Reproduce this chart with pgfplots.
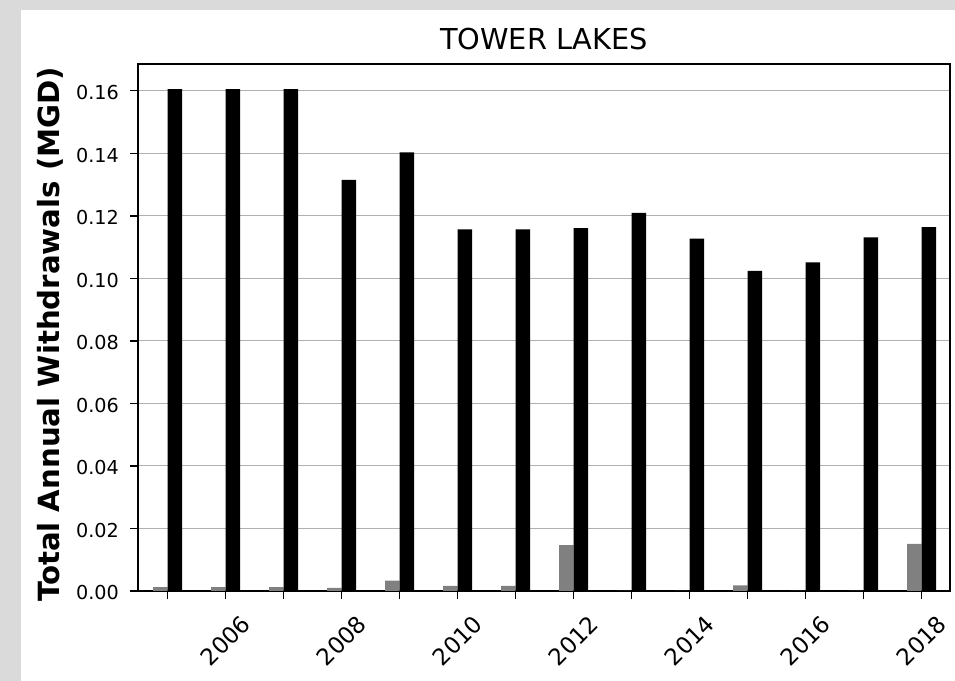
\documentclass[border=0pt]{standalone}
\usepackage{pgfplots}
\pgfplotsset{compat=1.18}
\usepackage{fontspec}
\setmainfont{DejaVu Sans}
\definecolor{bggray}{RGB}{218,218,218}
\definecolor{gridgray}{RGB}{176,176,176}
\definecolor{bargray}{RGB}{128,128,128}
\begin{document}
\begin{tikzpicture}[x=1pt,y=1pt]
\fill[bggray] (0,0) rectangle (477.5,340.5);
\fill[white] (10.5,0) rectangle (477.5,335.5);
\begin{axis}[
  at={(69pt,45pt)}, anchor=south west,
  scale only axis, width=406pt, height=263.5pt,
  xmin=2004.49, xmax=2018.49, ymin=0, ymax=0.1686,
  xtick={2005,2006,2007,2008,2009,2010,2011,2012,2013,2014,2015,2016,2017,2018},
  xticklabels={,2006,,2008,,2010,,2012,,2014,,2016,,2018},
  ytick={0,0.02,0.04,0.06,0.08,0.10,0.12,0.14,0.16},
  yticklabel={\pgfmathprintnumber[fixed, fixed zerofill, precision=2, assume math mode=true]{\tick}},
  xticklabel style={font=\fontsize{11.5}{13}\selectfont, anchor=center, yshift=-20.75pt, rotate=45},
  yticklabel style={font=\fontsize{9.6}{11}\selectfont, anchor=east, inner sep=0pt, yshift=-1pt},
  yticklabel shift=5.35pt,
  axis line style={black, line width=0.6pt},
  tick style={black, line width=0.6pt},
  major tick length=4pt, tick align=outside,
  xtick pos=bottom, ytick pos=left,
  ymajorgrids, grid style={gridgray, line width=0.5pt},
]
\addplot[ybar, bar width=0.25, bar shift=-0.125, fill=bargray, draw=none] coordinates {
(2005,0.0012) (2006,0.0012) (2007,0.0012) (2008,0.0010) (2009,0.0033) (2010,0.0016) (2011,0.0016)
(2012,0.0147) (2013,0) (2014,0) (2015,0.0018) (2016,0) (2017,0) (2018,0.0151)};
\addplot[ybar, bar width=0.25, bar shift=0.125, fill=black, draw=none] coordinates {
(2005,0.1606) (2006,0.1606) (2007,0.1606) (2008,0.1315) (2009,0.1403) (2010,0.1157) (2011,0.1157)
(2012,0.1161) (2013,0.1210) (2014,0.1127) (2015,0.1024) (2016,0.1051) (2017,0.1131) (2018,0.1164)};
\end{axis}
\node[font=\fontsize{14.4}{17}\selectfont, anchor=base] at (272,315.85) {TOWER LAKES};
\node[rotate=90, font=\bfseries\fontsize{14.6}{17}\selectfont] at (25,173.25) {Total Annual Withdrawals (MGD)};
\pgfresetboundingbox
\useasboundingbox (0,0) rectangle (477.5,340.5);
\end{tikzpicture}
\end{document}
